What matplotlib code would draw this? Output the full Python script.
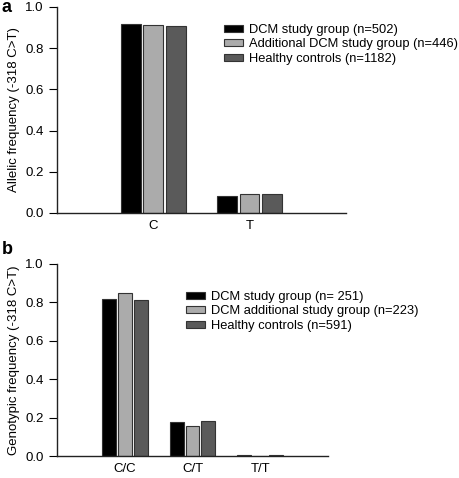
import numpy as np
import matplotlib
matplotlib.use('Agg')
import matplotlib.pyplot as plt

plt.rcParams['font.family'] = ['Liberation Sans', 'DejaVu Sans']

# panel a: allelic frequency
alleles = ['C', 'T']
a_labels = ['DCM study group (n=502)', 'Additional DCM study group (n=446)', 'Healthy controls (n=1182)']
a_vals = [[0.916, 0.083],
          [0.911, 0.090],
          [0.906, 0.093]]

# panel b: genotypic frequency
genotypes = ['C/C', 'C/T', 'T/T']
b_labels = ['DCM study group (n= 251)', 'DCM additional study group (n=223)', 'Healthy controls (n=591)']
b_vals = [[0.820, 0.176, 0.004],
          [0.848, 0.157, 0.002],
          [0.815, 0.181, 0.004]]

colors = ['#000000', '#ababab', '#5a5a5a']
edge = '#333333'

W, H = 460, 478


def panel(ax, cats, vals, labels, ylabel, xlim, leg_xy):
    x = np.arange(len(cats))
    w = 0.205
    gap = 0.03
    for i, (v, lab, c) in enumerate(zip(vals, labels, colors)):
        ax.bar(x + (i - 1) * (w + gap), v, width=w, color=c, edgecolor=edge,
               linewidth=0.8, label=lab)
    ax.set_xlim(*xlim)
    ax.set_ylim(0, 1.0)
    ax.set_yticks([0, 0.2, 0.4, 0.6, 0.8, 1.0])
    ax.set_yticklabels(['0.0', '0.2', '0.4', '0.6', '0.8', '1.0'])
    ax.set_xticks(x)
    ax.set_xticklabels(cats)
    ax.tick_params(axis='x', length=0, pad=5, labelsize=9.5)
    ax.tick_params(axis='y', length=5.5, width=0.8, direction='out',
                   labelsize=9.5, pad=4)
    for s in ['top', 'right']:
        ax.spines[s].set_visible(False)
    for s in ['left', 'bottom']:
        ax.spines[s].set_linewidth(1.0)
        ax.spines[s].set_color('#222222')
    ax.set_ylabel(ylabel, fontsize=9.5, labelpad=4)
    ax.legend(loc='upper left', bbox_to_anchor=(leg_xy[0] / W, 1 - leg_xy[1] / H),
              bbox_transform=fig.transFigure, frameon=False,
              fontsize=9.3, handlelength=1.45, handleheight=0.45,
              handletextpad=0.45, labelspacing=0.18, borderaxespad=0,
              borderpad=0)


fig = plt.figure(figsize=(W / 100, H / 100), dpi=100)
ax1 = fig.add_axes([0.124, 0.5544, 0.628, 0.431])
ax2 = fig.add_axes([0.124, 0.046, 0.589, 0.4017])

panel(ax1, alleles, a_vals, a_labels, 'Allelic frequency (-318 C>T)',
      (-1, 2), (224, 24))
panel(ax2, genotypes, b_vals, b_labels, 'Genotypic frequency (-318 C>T)',
      (-1, 3), (186, 291))

fig.text(7 / W, 1 - 8 / H, 'a', fontsize=13, fontweight='bold',
         ha='center', va='center')
fig.text(7 / W, 1 - 249 / H, 'b', fontsize=13, fontweight='bold',
         ha='center', va='center')

fig.savefig('out.png', dpi=100)
